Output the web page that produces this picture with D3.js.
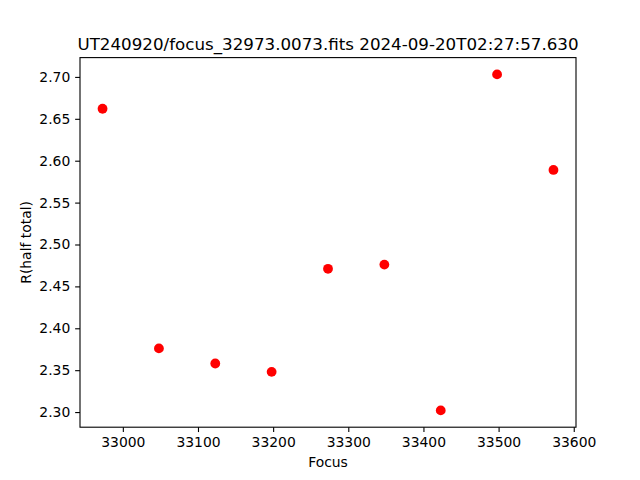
<!DOCTYPE html>
<html><head><meta charset="utf-8">
<script src="https://cdn.jsdelivr.net/npm/d3@7"></script>
<style>body{margin:0;background:#fff}text{font-family:"DejaVu Sans",sans-serif;fill:#000}</style>
</head><body>
<svg id="c" width="640" height="480"></svg>
<script>
const focus = [32973, 33048, 33123, 33198, 33273, 33348, 33423, 33498, 33573];
const rHalf = [2.662, 2.376, 2.358, 2.348, 2.471, 2.476, 2.302, 2.703, 2.589];
const xTicks = [33000, 33100, 33200, 33300, 33400, 33500, 33600];
const yTicks = [2.30, 2.35, 2.40, 2.45, 2.50, 2.55, 2.60, 2.65, 2.70];
const title = "UT240920/focus_32973.0073.fits 2024-09-20T02:27:57.630";

const L = 80, R = 576, T = 57.6, B = 427.2;
const svg = d3.select("#c");
const xmin = d3.min(focus), xmax = d3.max(focus), xm = (xmax - xmin) * 0.05;
const ymin = d3.min(rHalf), ymax = d3.max(rHalf), ym = (ymax - ymin) * 0.05;
const x = d3.scaleLinear().domain([xmin - xm, xmax + xm]).range([L, R]);
const y = d3.scaleLinear().domain([ymin - ym, ymax + ym]).range([B, T]);

const xa = svg.append("g").attr("transform", `translate(0,${B})`)
  .call(d3.axisBottom(x).tickValues(xTicks).tickFormat(d3.format("d")).tickSize(4.86).tickPadding(4.86));
const ya = svg.append("g").attr("transform", `translate(${L},0)`)
  .call(d3.axisLeft(y).tickValues(yTicks).tickFormat(d3.format(".2f")).tickSize(4.86).tickPadding(4.86));
[xa, ya].forEach(a => {
  a.select(".domain").remove();
  a.selectAll("line").attr("stroke", "#000").attr("stroke-width", 1.1);
  a.selectAll("text").attr("font-size", "13.9px").attr("font-family", "DejaVu Sans").attr("fill", "#000");
});
svg.append("rect").attr("x", L).attr("y", T).attr("width", R - L).attr("height", B - T)
  .attr("fill", "none").attr("stroke", "#000").attr("stroke-width", 1.1);

svg.append("g").selectAll("circle").data(focus).join("circle")
  .attr("cx", (d) => x(d)).attr("cy", (d, i) => y(rHalf[i])).attr("r", 4.9).attr("fill", "#ff0000");

svg.append("text").attr("x", (L + R) / 2).attr("y", 50).attr("text-anchor", "middle")
  .attr("font-size", "16.7px").text(title);
svg.append("text").attr("x", (L + R) / 2).attr("y", 467).attr("text-anchor", "middle")
  .attr("font-size", "13.9px").text("Focus");
svg.append("text").attr("transform", `translate(31,${(T + B) / 2}) rotate(-90)`).attr("text-anchor", "middle")
  .attr("font-size", "13.9px").text("R(half total)");
</script>
</body></html>
